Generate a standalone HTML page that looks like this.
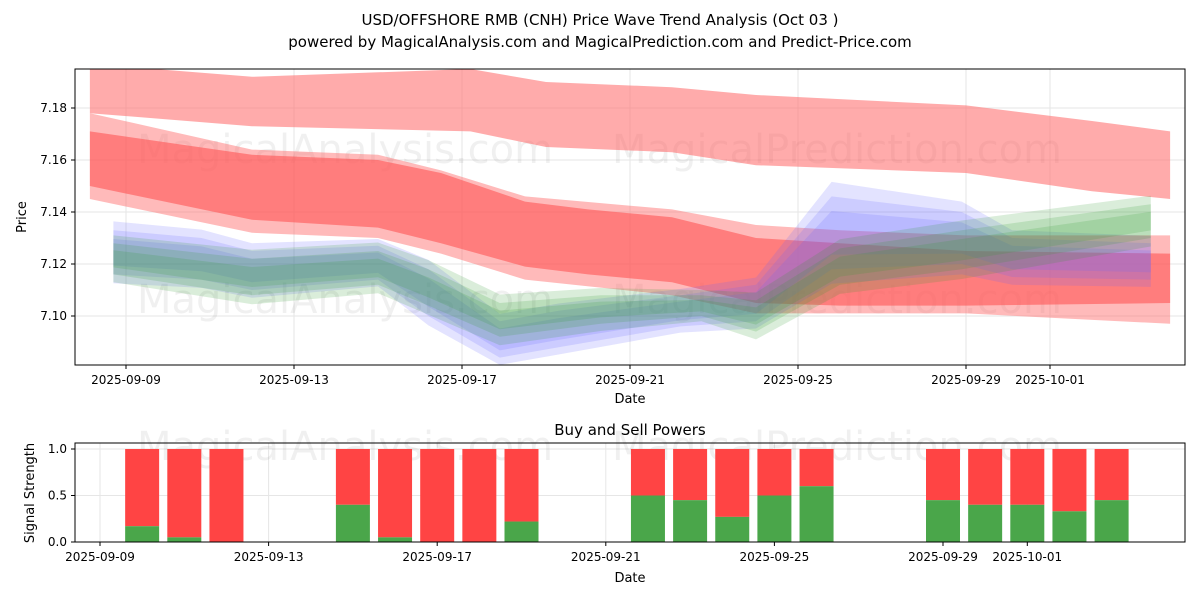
<!DOCTYPE html>
<html><head><meta charset="utf-8"><style>
body{margin:0;background:#fff;font-family:"Liberation Sans","DejaVu Sans",sans-serif}
svg text{font-family:"DejaVu Sans","Liberation Sans",sans-serif}
</style></head><body>
<svg id="c" width="1200" height="600" xmlns="http://www.w3.org/2000/svg">
<text x="600" y="25" text-anchor="middle" font-size="15" fill="#000">USD/OFFSHORE RMB (CNH) Price Wave Trend Analysis (Oct 03 )</text>
<text x="600" y="47" text-anchor="middle" font-size="15" fill="#000">powered by MagicalAnalysis.com and MagicalPrediction.com and Predict-Price.com</text>
<g id="topg"></g><g id="botg"></g>
</svg>
<script>
// day offsets from 2025-09-09
const redHiDays=[-0.86,3,8.2,10,13,15,20,23,24.86];
const redHiUp=[7.197,7.192,7.195,7.19,7.188,7.185,7.181,7.175,7.171];
const redHiLo=[7.178,7.173,7.171,7.165,7.163,7.158,7.155,7.148,7.145];
const redHaloDays=[-0.86,3,6,7.5,9.5,13,15,17,20,24.86];
const redHaloUp=[7.178,7.164,7.162,7.156,7.146,7.141,7.135,7.133,7.131,7.131];
const redHaloLo=[7.145,7.132,7.13,7.124,7.114,7.108,7.101,7.101,7.101,7.097];
const redDays=[-0.86,3,6,7.5,9.5,11,13,15,17,20,24.86];
const redUp=[7.171,7.162,7.160,7.155,7.144,7.141,7.138,7.130,7.128,7.125,7.124];
const redLo=[7.150,7.137,7.134,7.128,7.119,7.116,7.113,7.105,7.104,7.104,7.105];
const blueDays=[-0.3,1.8,3,6,7.2,8.9,10.3,13.2,15,16.8,19.9,21.1,24.4];
const blueUp=[7.133,7.13,7.125,7.127,7.118,7.098,7.102,7.108,7.112,7.146,7.14,7.13,7.128];
const blueLo=[7.116,7.114,7.110,7.114,7.100,7.084,7.088,7.096,7.098,7.118,7.12,7.115,7.114];
const greenDays=[-0.3,3,6,7.2,8.9,11.3,13.7,15,17,19.9,24.4];
const greenUp=[7.128,7.122,7.125,7.118,7.105,7.108,7.108,7.106,7.126,7.133,7.143];
const greenLo=[7.116,7.108,7.112,7.104,7.092,7.097,7.1,7.094,7.112,7.118,7.13];
const xTickDays=[0,4,8,12,16,20,22];
const xTickLabels=["2025-09-09","2025-09-13","2025-09-17","2025-09-21","2025-09-25","2025-09-29","2025-10-01"];
const yTicks=[7.10,7.12,7.14,7.16,7.18];
const barDays=[1,2,3,6,7,8,9,10,13,14,15,16,17,20,21,22,23,24];
const buyVals=[0.17,0.05,0,0.4,0.05,0,0,0.22,0.5,0.45,0.27,0.5,0.6,0.45,0.4,0.4,0.33,0.45];
const sT=[0,0.5,1.0];

const NS="http://www.w3.org/2000/svg";
function mk(p,t,a){const e=document.createElementNS(NS,t);for(const k in a)e.setAttribute(k,a[k]);p.appendChild(e);return e;}
const topG=document.getElementById('topg'),botG=document.getElementById('botg');
const X=d=>126+42*d, Y=v=>316-(v-7.10)*2600;
const XB=d=>100+42.15*d, YB=v=>542-v*93;
const defs=mk(document.getElementById('c'),'defs',{});
const cp=mk(defs,'clipPath',{id:'cl'});mk(cp,'rect',{x:75,y:69,width:1110,height:296});
yTicks.forEach(v=>{const l=mk(topG,'line',{x1:75,x2:1185,y1:Y(v),y2:Y(v),stroke:'#e6e6e6'});});
xTickDays.forEach(d=>{const l=mk(topG,'line',{x1:X(d),x2:X(d),y1:69,y2:365,stroke:'#e6e6e6'});});
const wmPos=[[345,163,'MagicalAnalysis.com'],[837,163,'MagicalPrediction.com'],[345,313,'MagicalAnalysis.com'],[837,313,'MagicalPrediction.com']];
wmPos.forEach(w=>{const t=mk(topG,'text',{x:w[0],y:w[1],'font-size':40,fill:'#000','fill-opacity':0.06,'text-anchor':'middle'});t.textContent=w[2];

});
const g=mk(topG,'g',{'clip-path':'url(#cl)'});
function band(days,up,lo,col,op,name,shrink){
  const pts=[];days.forEach((d,i)=>{const m=(up[i]+lo[i])/2,h=(up[i]-lo[i])/2*shrink;pts.push(X(d)+','+Y(m+h));});
  for(let i=days.length-1;i>=0;i--){const m=(up[i]+lo[i])/2,h=(up[i]-lo[i])/2*shrink;pts.push(X(days[i])+','+Y(m-h));}
  const p=mk(g,'polygon',{points:pts.join(' '),fill:col,'fill-opacity':op});
  
  
}
band(redHiDays,redHiUp,redHiLo,'#ff6666',0.55,'red-upper-band',1);
band(redHaloDays,redHaloUp,redHaloLo,'#ff6666',0.45,'red-halo-band',1);
band(redDays,redUp,redLo,'#ff5555',0.6,'red-main-band',1);
[1.4,1.0,0.6].forEach(s=>band(blueDays,blueUp,blueLo,'#6666ff',0.18,'blue-wave-band',s));
[1.5,1.0,0.55].forEach(s=>band(greenDays,greenUp,greenLo,'#339933',0.18,'green-wave-band',s));
mk(topG,'rect',{x:75,y:69,width:1110,height:296,fill:'none',stroke:'#000','stroke-width':1});
yTicks.forEach(v=>{mk(topG,'line',{x1:71,x2:75,y1:Y(v),y2:Y(v),stroke:'#000'});const t=mk(topG,'text',{x:67,y:Y(v)+4,'font-size':12,'text-anchor':'end'});t.textContent=v.toFixed(2);

});
xTickDays.forEach((d,i)=>{mk(topG,'line',{x1:X(d),x2:X(d),y1:365,y2:369,stroke:'#000'});const t=mk(topG,'text',{x:X(d),y:384,'font-size':12,'text-anchor':'middle'});t.textContent=xTickLabels[i];

});
const xt=mk(topG,'text',{x:630,y:403,'font-size':13,'text-anchor':'middle'});xt.textContent='Date';

const yt=mk(topG,'text',{x:26,y:217,'font-size':13,'text-anchor':'middle',transform:'rotate(-90 26 217)'});yt.textContent='Price';


const bt=mk(botG,'text',{x:630,y:435,'font-size':15,'text-anchor':'middle'});bt.textContent='Buy and Sell Powers';

sT.forEach(v=>{const l=mk(botG,'line',{x1:75,x2:1185,y1:YB(v),y2:YB(v),stroke:'#e6e6e6'});});
xTickDays.forEach(d=>{const l=mk(botG,'line',{x1:XB(d),x2:XB(d),y1:443,y2:542,stroke:'#e6e6e6'});});
[[345,460,'MagicalAnalysis.com'],[837,460,'MagicalPrediction.com']].forEach(w=>{const t=mk(botG,'text',{x:w[0],y:w[1],'font-size':40,fill:'#000','fill-opacity':0.06,'text-anchor':'middle'});t.textContent=w[2];

});
barDays.forEach((d,i)=>{
  const x=XB(d)-17,b=buyVals[i];
  const r=mk(botG,'rect',{x:x,y:YB(1),width:34,height:YB(b)-YB(1),fill:'#ff4444'});
  
  
  const gr=mk(botG,'rect',{x:x,y:YB(b),width:34,height:YB(0)-YB(b),fill:'#4aa64a'});
  
  
});
mk(botG,'rect',{x:75,y:443,width:1110,height:99,fill:'none',stroke:'#000'});
sT.forEach(v=>{mk(botG,'line',{x1:71,x2:75,y1:YB(v),y2:YB(v),stroke:'#000'});const t=mk(botG,'text',{x:67,y:YB(v)+4,'font-size':12,'text-anchor':'end'});t.textContent=v.toFixed(1);

});
xTickDays.forEach((d,i)=>{mk(botG,'line',{x1:XB(d),x2:XB(d),y1:542,y2:546,stroke:'#000'});const t=mk(botG,'text',{x:XB(d),y:561,'font-size':12,'text-anchor':'middle'});t.textContent=xTickLabels[i];

});
const xb=mk(botG,'text',{x:630,y:582,'font-size':13,'text-anchor':'middle'});xb.textContent='Date';

const yb=mk(botG,'text',{x:34,y:493,'font-size':13,'text-anchor':'middle',transform:'rotate(-90 34 493)'});yb.textContent='Signal Strength';

</script>
</body></html>
